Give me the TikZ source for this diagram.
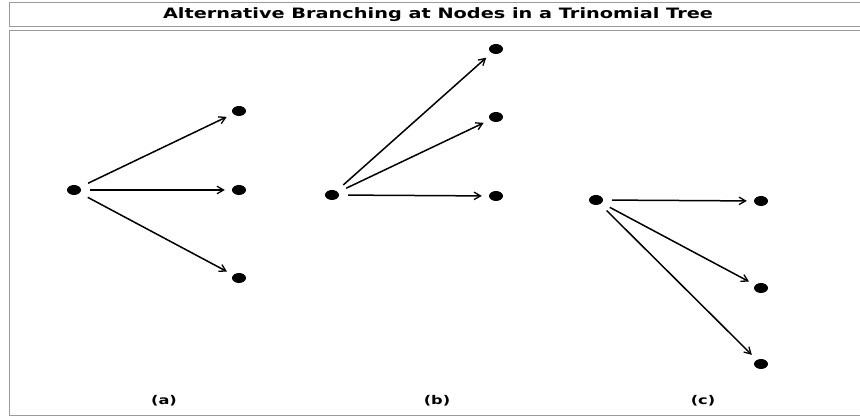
\documentclass[tikz,border=0pt]{standalone}
\usepackage{fontspec}
\setmainfont{DejaVu Sans}
\newfontfamily\widefont[FakeStretch=1.35]{DejaVu Sans}
\usetikzlibrary{arrows.meta, shapes.geometric}
\definecolor{frameGrey}{HTML}{9A9A9A}

\begin{document}
\begin{tikzpicture}[x=1pt, y=-1pt,
  frame/.style={draw=frameGrey, line width=1pt},
  dot/.style={ellipse, fill=black, minimum width=14pt, minimum height=10pt, inner sep=0pt},
  branch/.style={-{Straight Barb[length=6.5pt, width=7.5pt, line width=1.3pt]}, line width=1.5pt, shorten <=9pt, shorten >=7pt},
  caption/.style={font=\widefont\bfseries\fontsize{12}{12}\selectfont}]
  \useasboundingbox (0,0) rectangle (860,419);
  \fill[white] (0,0) rectangle (860,419);
  % frames
  \draw[frame] (9,2.5) rectangle (866,27);
  \draw[frame] (9,30.5) rectangle (866,415.5);
  \node[font=\widefont\bfseries\fontsize{14.3}{15}\selectfont] (title) at (438,14.5) {Alternative Branching at Nodes in a Trinomial Tree};
  % tree (a)
  \node[dot] (a0) at (74,190) {};
  \node[dot] (a1) at (239,111) {};
  \node[dot] (a2) at (239,190) {};
  \node[dot] (a3) at (239,278) {};
  \foreach \n in {a1,a2,a3} \draw[branch] (a0) -- (\n);
  \node[caption] (la) at (164,401) {(a)};
  % tree (b)
  \node[dot] (b0) at (332,195) {};
  \node[dot] (b1) at (496,49) {};
  \node[dot] (b2) at (496,117) {};
  \node[dot] (b3) at (496,196) {};
  \foreach \n in {b1,b2,b3} \draw[branch] (b0) -- (\n);
  \node[caption] (lb) at (437,401) {(b)};
  % tree (c)
  \node[dot] (c0) at (596,200) {};
  \node[dot] (c1) at (761,201) {};
  \node[dot] (c2) at (761,288) {};
  \node[dot] (c3) at (761,364) {};
  \foreach \n in {c1,c2,c3} \draw[branch] (c0) -- (\n);
  \node[caption] (lc) at (703,401) {(c)};
\end{tikzpicture}
\end{document}
